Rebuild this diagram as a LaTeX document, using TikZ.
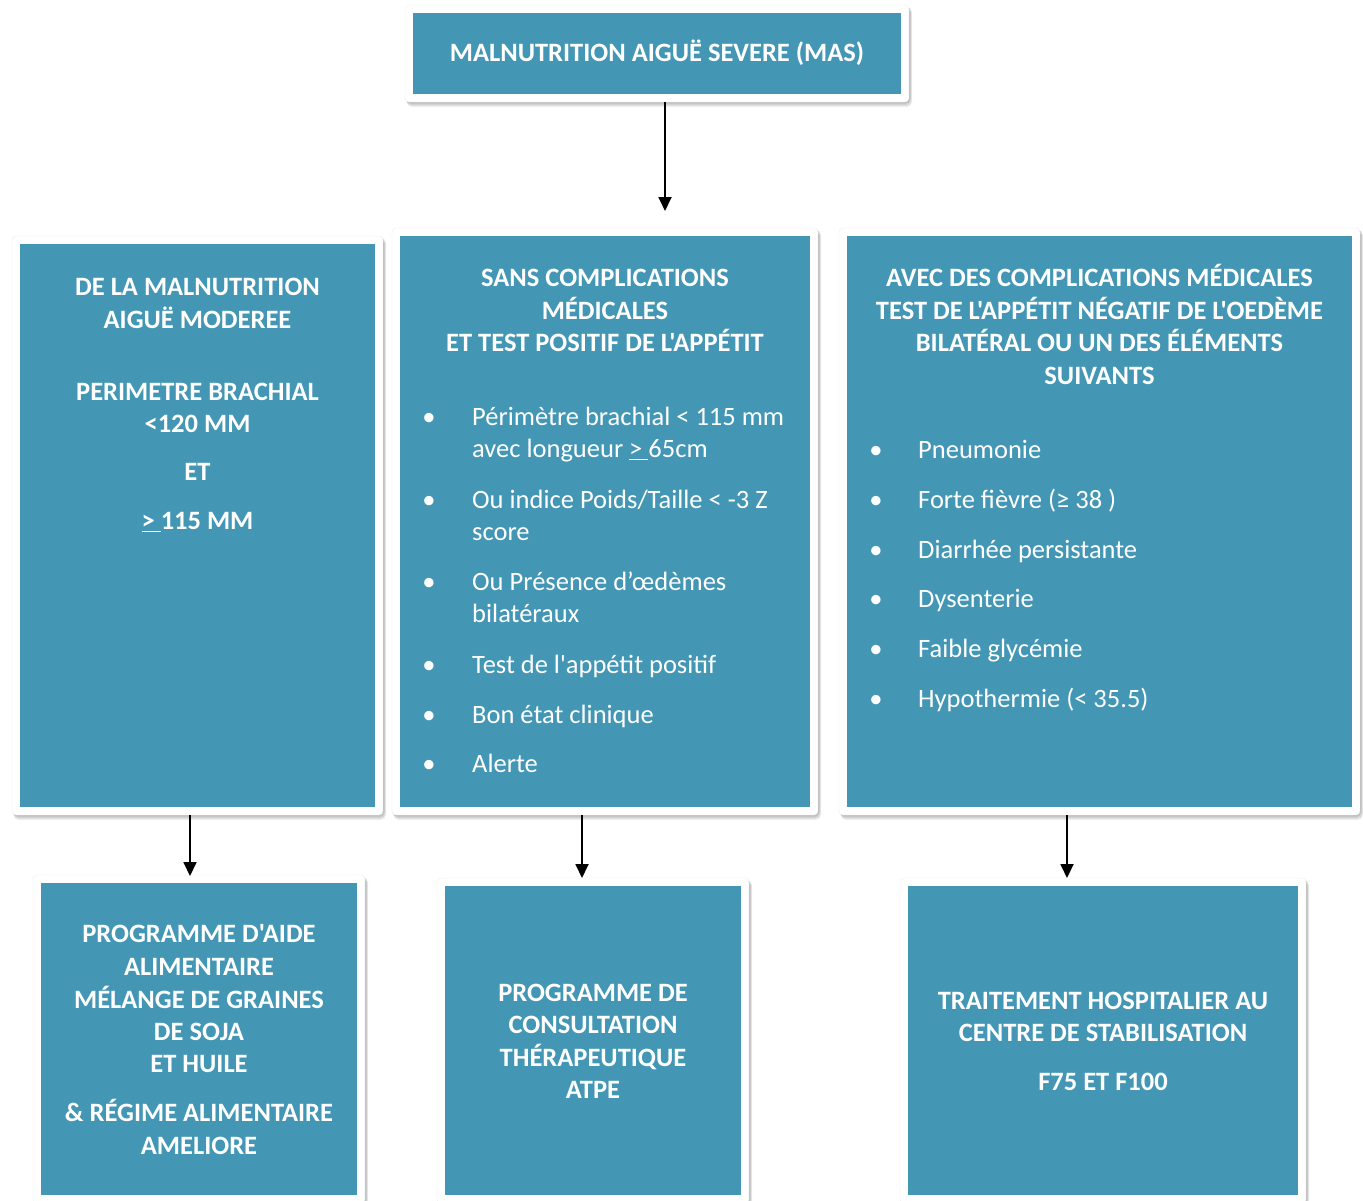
\documentclass[tikz,border=0pt]{standalone}
\usepackage{fontspec}
\newfontfamily\cf{Carlito}
\usetikzlibrary{arrows.meta}
\definecolor{teal1}{RGB}{67,151,181}
\tikzset{
  card/.style={rectangle,fill=teal1,inner sep=0pt,outer sep=0pt,draw=none},
  txt/.style={font=\cf\fontsize{26.5}{32.3}\selectfont,text=white,inner sep=0pt,anchor=base},
  btxt/.style={txt,font=\cf\bfseries\fontsize{26.5}{32.3}\selectfont},
  ltxt/.style={txt,anchor=base west},
  arr/.style={line width=1.8pt,draw=black,-{Triangle[length=14pt,width=13pt]}}
}
\newcommand\mkcard[5]{%
  \foreach \k in {1,...,6}{\fill[black,opacity=0.06,rounded corners=5pt] ({#2-8+\k*0.3},{#3-6}) rectangle ({#4+8+\k*0.5},{#5+7+\k});}
  \fill[white,draw=black!7,rounded corners=4pt] ({#2-8},{#3-8}) rectangle ({#4+8},{#5+8});
  \node[card,minimum width={(#4-#2)*1pt},minimum height={(#5-#3)*1pt}] (#1) at ({(#2+#4)/2},{(#3+#5)/2}) {};
}
\newcommand\wl[4]{\node[btxt] (#1) at (#2,{#3+8.5}) {#4};}
\newcommand\il[4]{\node[ltxt] (#1) at (#2,{#3+8.5}) {#4};}
\newcommand\bul[3]{\node[txt] (#1) at (#2,{#3+8.5}) {•};}
\begin{document}
\begin{tikzpicture}[x=1pt,y=-1pt]
\useasboundingbox[fill=white] (0,0) rectangle (1363,1200);
% cards
\mkcard{top}{413}{13}{901}{94}
\mkcard{left}{20}{244}{375}{807}
\mkcard{mid}{400}{236}{810}{807}
\mkcard{right}{847}{236}{1352}{807}
\mkcard{bl}{41}{883}{357}{1195}
\mkcard{bm}{445}{886}{741}{1195}
\mkcard{br}{908}{886}{1298}{1195}
% arrow targets
\coordinate (p0) at (665,211);
\coordinate (p1) at (190,876);
\coordinate (p2) at (582,878);
\coordinate (p3) at (1067,878);
\draw[arr] ([yshift=-8pt]top.south -| p0) -- (p0);
\draw[arr] ([yshift=-8pt]left.south -| p1) -- (p1);
\draw[arr] ([yshift=-8pt]mid.south -| p2) -- (p2);
\draw[arr] ([yshift=-8pt]right.south -| p3) -- (p3);
% top text
\wl{t0}{657}{53}{MALNUTRITION AIGUË SEVERE (MAS)}
% left
\wl{a1}{197.5}{287}{DE LA MALNUTRITION}
\wl{a2}{197.5}{320}{AIGUË MODEREE}
\wl{a3}{197.5}{392}{PERIMETRE BRACHIAL}
\wl{a4}{197.5}{424}{<120 MM}
\wl{a5}{197.5}{472}{ET}
\wl{a6}{197.5}{521}{\underline{>\ }115 MM}
% middle
\wl{m1}{605}{278}{SANS COMPLICATIONS}
\wl{m2}{605}{311}{MÉDICALES}
\wl{m3}{605}{343}{ET TEST POSITIF DE L'APPÉTIT}
\bul{mb1}{429}{417}\il{mi1}{472}{417}{Périmètre brachial < 115 mm}
\il{mi1b}{472}{449}{avec longueur \underline{>\ }65cm}
\bul{mb2}{429}{500}\il{mi2}{472}{500}{Ou indice Poids/Taille < -3 Z}
\il{mi2b}{472}{532}{score}
\bul{mb3}{429}{582}\il{mi3}{472}{582}{Ou Présence d’œdèmes}
\il{mi3b}{472}{614}{bilatéraux}
\bul{mb4}{429}{665}\il{mi4}{472}{665}{Test de l'appétit positif}
\bul{mb5}{429}{715}\il{mi5}{472}{715}{Bon état clinique}
\bul{mb6}{429}{764}\il{mi6}{472}{764}{Alerte}
% right
\wl{r1}{1099.5}{278}{AVEC DES COMPLICATIONS MÉDICALES}
\wl{r2}{1099.5}{311}{TEST DE L'APPÉTIT NÉGATIF DE L'OEDÈME}
\wl{r3}{1099.5}{343}{BILATÉRAL OU UN DES ÉLÉMENTS}
\wl{r4}{1099.5}{376}{SUIVANTS}
\bul{rb1}{876}{450}\il{ri1}{918}{450}{Pneumonie}
\bul{rb2}{876}{500}\il{ri2}{918}{500}{Forte fièvre (≥ 38 )}
\bul{rb3}{876}{550}\il{ri3}{918}{550}{Diarrhée persistante}
\bul{rb4}{876}{599}\il{ri4}{918}{599}{Dysenterie}
\bul{rb5}{876}{649}\il{ri5}{918}{649}{Faible glycémie}
\bul{rb6}{876}{699}\il{ri6}{918}{699}{Hypothermie (< 35.5)}
% bottom left
\wl{c1}{199}{934}{PROGRAMME D'AIDE}
\wl{c2}{199}{967}{ALIMENTAIRE}
\wl{c3}{199}{1000}{MÉLANGE DE GRAINES}
\wl{c4}{199}{1032}{DE SOJA}
\wl{c5}{199}{1064}{ET HUILE}
\wl{c6}{199}{1113}{\& RÉGIME ALIMENTAIRE}
\wl{c7}{199}{1146}{AMELIORE}
% bottom middle
\wl{d1}{593}{993}{PROGRAMME DE}
\wl{d2}{593}{1025}{CONSULTATION}
\wl{d3}{593}{1058}{THÉRAPEUTIQUE}
\wl{d4}{593}{1090}{ATPE}
% bottom right
\wl{e1}{1103}{1001}{TRAITEMENT HOSPITALIER AU}
\wl{e2}{1103}{1033}{CENTRE DE STABILISATION}
\wl{e3}{1103}{1082}{F75 ET F100}
\end{tikzpicture}
\end{document}
